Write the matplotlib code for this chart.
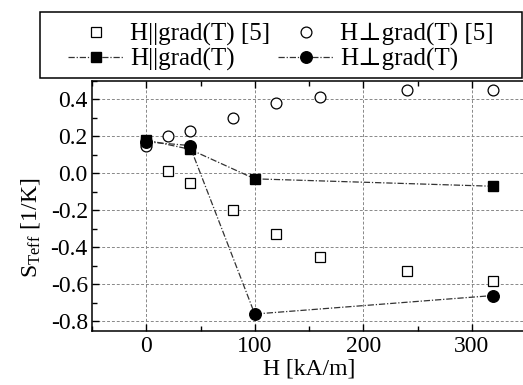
import matplotlib
matplotlib.use("Agg")
import matplotlib.pyplot as plt
from matplotlib.font_manager import FontProperties
from matplotlib.patches import Rectangle

plt.rcParams['font.family'] = 'Liberation Serif'
plt.rcParams['mathtext.fontset'] = 'stix'

# --- data ---
h_ref = [0, 20, 40, 80, 120, 160, 240, 320]
s_par_ref = [0.17, 0.01, -0.05, -0.20, -0.33, -0.45, -0.53, -0.58]
s_perp_ref = [0.15, 0.20, 0.23, 0.30, 0.38, 0.41, 0.45, 0.45]

h_meas = [0, 40, 100, 320]
s_par = [0.18, 0.13, -0.03, -0.07]
s_perp = [0.17, 0.15, -0.76, -0.66]

W, H = 523, 385
fig = plt.figure(figsize=(W / 100, H / 100), dpi=100)
ax = fig.add_axes([92/W, 54.3/H, 434/W, 250/H])

dash = (0, (5, 1.5, 1, 1.5))
l1, = ax.plot(h_ref, s_par_ref, ls="none", marker="s", ms=7.3, mfc="white",
              mec="black", mew=0.9, label="H||grad(T) [5]")
l2, = ax.plot(h_ref, s_perp_ref, ls="none", marker="o", ms=7.8, mfc="white",
              mec="black", mew=0.9, label="H\u22a5grad(T) [5]")
l3, = ax.plot(h_meas, s_par, ls=dash, color="#333333", lw=0.9, marker="s",
              ms=7.5, mfc="black", mec="black", label="H||grad(T)")
l4, = ax.plot(h_meas, s_perp, ls=dash, color="#333333", lw=0.9, marker="o",
              ms=8.3, mfc="black", mec="black", label="H\u22a5grad(T)")

ax.set_xlim(-50, 350)
ax.set_ylim(-0.85, 0.5)
ax.set_xticks([0, 100, 200, 300])
ax.set_xticks([-50, 50, 150, 250, 350], minor=True)
ax.set_yticks([-0.8, -0.6, -0.4, -0.2, 0.0, 0.2, 0.4])
ax.set_yticks([-0.7, -0.5, -0.3, -0.1, 0.1, 0.3, 0.5], minor=True)
ax.set_yticklabels(["-0.8", "-0.6", "-0.4", "-0.2", "0.0", "0.2", "0.4"])
ax.tick_params(which="both", direction="in", top=True, right=False,
               labelsize=17, width=1)
ax.tick_params(which="major", length=5)
ax.tick_params(which="minor", length=3.5)
ax.tick_params(axis="x", pad=4)
ax.tick_params(axis="y", pad=3)
ax.grid(True, which="major", ls=(0, (3, 2)), color="#888888", lw=0.7)
for sp in ax.spines.values():
    sp.set_linewidth(1.1)

ax.set_xlabel("H [kA/m]", fontsize=17, labelpad=1)
ax.set_ylabel(r"S$_\mathregular{Teff}$ [1/K]", fontsize=17)
ax.yaxis.set_label_coords(-0.115, 0.41)

# legend box above the axes
fig.patches.append(Rectangle((40/W, 1 - 78/H), 482/W, 66/H,
                             transform=fig.transFigure, fill=False,
                             edgecolor="black", lw=1.1))
leg_font = FontProperties(family=['Liberation Serif', 'DejaVu Serif'], size=18)
fig.legend(handles=[l1, l3, l2, l4], ncol=2, loc="center",
           bbox_to_anchor=(281/W, 1 - 47/H), prop=leg_font, frameon=False,
           handlelength=2.2, handletextpad=0.28, columnspacing=0.32,
           borderpad=0, labelspacing=0.05, borderaxespad=0)

fig.savefig("out.png", dpi=100)
